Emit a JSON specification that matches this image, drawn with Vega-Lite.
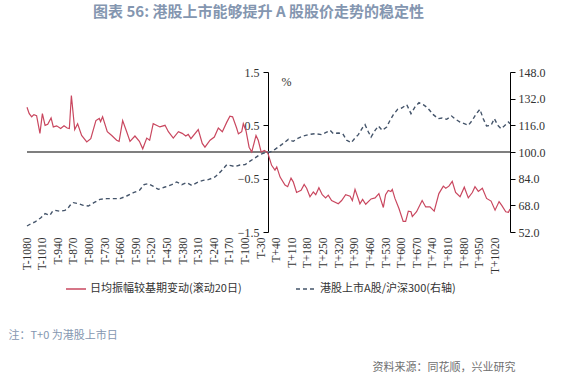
{
  "$schema": "https://vega.github.io/schema/vega-lite/v6.json",
  "width": 483,
  "height": 160,
  "autosize": {"type": "none"},
  "padding": {"left": 27, "top": 72, "right": 74, "bottom": 144},
  "background": "white",
  "title": {
    "text": "图表 56: 港股上市能够提升 A 股股价走势的稳定性",
    "font": "Noto Sans CJK SC",
    "fontSize": 15,
    "fontWeight": "bold",
    "color": "#8496b0",
    "anchor": "middle",
    "frame": "group",
    "dx": -10,
    "offset": 46
  },
  "datasets": {
    "amp": [
      {"d": -1080, "v": 0.84}, {"d": -1070, "v": 0.72}, {"d": -1059, "v": 0.66}, {"d": -1049, "v": 0.70},
      {"d": -1037, "v": 0.68}, {"d": -1022, "v": 0.35}, {"d": -1011, "v": 0.72}, {"d": -999, "v": 0.50},
      {"d": -987, "v": 0.52}, {"d": -972, "v": 0.64}, {"d": -962, "v": 0.47}, {"d": -947, "v": 0.49},
      {"d": -929, "v": 0.44}, {"d": -914, "v": 0.49}, {"d": -900, "v": 0.45}, {"d": -890, "v": 0.44},
      {"d": -881, "v": 1.06}, {"d": -866, "v": 0.42}, {"d": -853, "v": 0.53}, {"d": -835, "v": 0.31},
      {"d": -812, "v": 0.19}, {"d": -794, "v": 0.25}, {"d": -771, "v": 0.59}, {"d": -756, "v": 0.63},
      {"d": -750, "v": 0.57}, {"d": -741, "v": 0.66}, {"d": -720, "v": 0.38}, {"d": -700, "v": 0.31},
      {"d": -678, "v": 0.22}, {"d": -667, "v": 0.20}, {"d": -651, "v": 0.59}, {"d": -633, "v": 0.38},
      {"d": -618, "v": 0.20}, {"d": -596, "v": 0.30}, {"d": -576, "v": 0.20}, {"d": -561, "v": 0.06},
      {"d": -543, "v": 0.26}, {"d": -530, "v": 0.22}, {"d": -514, "v": 0.53}, {"d": -484, "v": 0.47},
      {"d": -461, "v": 0.50}, {"d": -446, "v": 0.38}, {"d": -424, "v": 0.26}, {"d": -401, "v": 0.38},
      {"d": -384, "v": 0.35}, {"d": -368, "v": 0.30}, {"d": -357, "v": 0.33}, {"d": -345, "v": 0.25},
      {"d": -312, "v": 0.42}, {"d": -294, "v": 0.16}, {"d": -282, "v": 0.09}, {"d": -259, "v": 0.22},
      {"d": -240, "v": 0.28}, {"d": -222, "v": 0.45}, {"d": -204, "v": 0.38}, {"d": -184, "v": 0.56},
      {"d": -170, "v": 0.67}, {"d": -158, "v": 0.66}, {"d": -140, "v": 0.45}, {"d": -132, "v": 0.34},
      {"d": -117, "v": 0.38}, {"d": -110, "v": 0.53}, {"d": -98, "v": 0.40}, {"d": -84, "v": 0.09},
      {"d": -72, "v": 0.0}, {"d": -53, "v": 0.31}, {"d": -43, "v": 0.22}, {"d": -30, "v": 0.0},
      {"d": -15, "v": 0.03}, {"d": 0, "v": -0.02}, {"d": 17, "v": -0.25}, {"d": 32, "v": -0.34},
      {"d": 40, "v": -0.28}, {"d": 55, "v": -0.47}, {"d": 77, "v": -0.62}, {"d": 89, "v": -0.65},
      {"d": 104, "v": -0.49}, {"d": 114, "v": -0.56}, {"d": 129, "v": -0.76}, {"d": 149, "v": -0.72},
      {"d": 163, "v": -0.61}, {"d": 174, "v": -0.68}, {"d": 189, "v": -0.84}, {"d": 204, "v": -0.75},
      {"d": 215, "v": -0.80}, {"d": 229, "v": -0.67}, {"d": 244, "v": -0.80}, {"d": 259, "v": -0.86},
      {"d": 271, "v": -0.81}, {"d": 286, "v": -0.91}, {"d": 316, "v": -0.97}, {"d": 331, "v": -0.91},
      {"d": 349, "v": -0.80}, {"d": 369, "v": -0.83}, {"d": 379, "v": -0.91}, {"d": 391, "v": -0.70},
      {"d": 406, "v": -0.88}, {"d": 413, "v": -0.97}, {"d": 425, "v": -0.89}, {"d": 439, "v": -0.98},
      {"d": 463, "v": -0.88}, {"d": 481, "v": -0.86}, {"d": 498, "v": -0.78}, {"d": 518, "v": -1.04},
      {"d": 528, "v": -0.80}, {"d": 540, "v": -0.72}, {"d": 552, "v": -0.74}, {"d": 558, "v": -0.70},
      {"d": 570, "v": -0.87}, {"d": 588, "v": -1.06}, {"d": 607, "v": -1.30}, {"d": 618, "v": -1.30},
      {"d": 630, "v": -1.11}, {"d": 642, "v": -1.12}, {"d": 648, "v": -1.21}, {"d": 667, "v": -1.12},
      {"d": 692, "v": -0.91}, {"d": 708, "v": -1.03}, {"d": 727, "v": -1.03}, {"d": 746, "v": -1.11},
      {"d": 767, "v": -0.78}, {"d": 787, "v": -0.64}, {"d": 798, "v": -0.68}, {"d": 812, "v": -0.64},
      {"d": 827, "v": -0.55}, {"d": 842, "v": -0.76}, {"d": 862, "v": -0.84}, {"d": 881, "v": -0.66},
      {"d": 899, "v": -0.86}, {"d": 917, "v": -0.76}, {"d": 929, "v": -0.65}, {"d": 944, "v": -0.74},
      {"d": 962, "v": -0.68}, {"d": 981, "v": -0.87}, {"d": 1001, "v": -0.92}, {"d": 1019, "v": -1.09},
      {"d": 1037, "v": -0.93}, {"d": 1049, "v": -1.00}, {"d": 1067, "v": -1.12}, {"d": 1079, "v": -1.13},
      {"d": 1086, "v": -1.07}
    ],
    "ratio": [
      {"d": -1080, "r": 55.6}, {"d": -1062, "r": 57.0}, {"d": -1044, "r": 58.0}, {"d": -1030, "r": 59.5},
      {"d": -1019, "r": 60.4}, {"d": -999, "r": 63.0}, {"d": -977, "r": 62.0}, {"d": -965, "r": 64.5},
      {"d": -954, "r": 65.0}, {"d": -932, "r": 64.4}, {"d": -910, "r": 65.0}, {"d": -895, "r": 66.5},
      {"d": -887, "r": 68.0}, {"d": -872, "r": 69.6}, {"d": -850, "r": 69.0}, {"d": -828, "r": 68.0},
      {"d": -805, "r": 67.6}, {"d": -780, "r": 69.6}, {"d": -753, "r": 71.6}, {"d": -723, "r": 72.0},
      {"d": -693, "r": 72.0}, {"d": -663, "r": 72.0}, {"d": -633, "r": 73.6}, {"d": -603, "r": 75.6},
      {"d": -576, "r": 77.0}, {"d": -555, "r": 80.4}, {"d": -536, "r": 81.0}, {"d": -515, "r": 79.5},
      {"d": -491, "r": 77.6}, {"d": -461, "r": 79.0}, {"d": -431, "r": 80.4}, {"d": -409, "r": 82.0},
      {"d": -386, "r": 80.4}, {"d": -364, "r": 81.6}, {"d": -341, "r": 80.0}, {"d": -312, "r": 82.0},
      {"d": -290, "r": 83.0}, {"d": -267, "r": 83.4}, {"d": -237, "r": 85.0}, {"d": -210, "r": 88.4},
      {"d": -184, "r": 92.4}, {"d": -165, "r": 91.8}, {"d": -147, "r": 91.2}, {"d": -125, "r": 92.2},
      {"d": -102, "r": 92.4}, {"d": -80, "r": 94.5}, {"d": -57, "r": 96.5}, {"d": -35, "r": 98.5},
      {"d": -13, "r": 99.5}, {"d": 1, "r": 99.5}, {"d": 18, "r": 100.5}, {"d": 32, "r": 101.6},
      {"d": 62, "r": 104.4}, {"d": 92, "r": 107.6}, {"d": 114, "r": 106.4}, {"d": 137, "r": 108.4},
      {"d": 159, "r": 109.6}, {"d": 181, "r": 110.4}, {"d": 211, "r": 111.0}, {"d": 241, "r": 110.4},
      {"d": 259, "r": 111.6}, {"d": 279, "r": 113.0}, {"d": 294, "r": 111.0}, {"d": 316, "r": 111.4},
      {"d": 336, "r": 111.0}, {"d": 354, "r": 107.0}, {"d": 374, "r": 105.6}, {"d": 391, "r": 108.4},
      {"d": 406, "r": 110.4}, {"d": 424, "r": 114.4}, {"d": 436, "r": 116.4}, {"d": 451, "r": 112.0},
      {"d": 463, "r": 109.0}, {"d": 481, "r": 113.0}, {"d": 496, "r": 115.6}, {"d": 513, "r": 113.0},
      {"d": 533, "r": 115.0}, {"d": 548, "r": 119.0}, {"d": 563, "r": 122.4}, {"d": 582, "r": 125.6},
      {"d": 600, "r": 126.4}, {"d": 623, "r": 128.4}, {"d": 642, "r": 123.0}, {"d": 660, "r": 127.0},
      {"d": 678, "r": 129.6}, {"d": 697, "r": 128.4}, {"d": 717, "r": 126.4}, {"d": 742, "r": 122.4},
      {"d": 764, "r": 120.0}, {"d": 782, "r": 120.4}, {"d": 802, "r": 119.6}, {"d": 824, "r": 121.6},
      {"d": 842, "r": 119.6}, {"d": 862, "r": 118.0}, {"d": 881, "r": 117.0}, {"d": 899, "r": 116.0},
      {"d": 917, "r": 119.0}, {"d": 932, "r": 122.4}, {"d": 951, "r": 125.6}, {"d": 966, "r": 120.0},
      {"d": 981, "r": 115.6}, {"d": 1001, "r": 116.0}, {"d": 1016, "r": 120.0}, {"d": 1031, "r": 116.0},
      {"d": 1046, "r": 114.0}, {"d": 1060, "r": 115.6}, {"d": 1079, "r": 118.0}, {"d": 1086, "r": 117.0}
    ],
    "base": [{"zero": 0}]
  },
  "layer": [
    {
      "layer": [
        {
          "data": {"name": "base"},
          "mark": {"type": "rule", "color": "#7f7f7f", "strokeWidth": 2},
          "encoding": {
            "y": {"field": "zero", "type": "quantitative", "scale": {"domain": [-1.5, 1.5], "nice": false, "zero": false}}
          }
        },
        {
          "data": {"name": "amp"},
          "mark": {"type": "line", "strokeWidth": 1.2, "interpolate": "linear"},
          "encoding": {
            "x": {
              "field": "d", "type": "quantitative",
              "scale": {"domain": [-1080, 1086], "nice": false, "zero": false},
              "axis": {
                "orient": "bottom",
                "values": [-1080, -1010, -940, -870, -800, -730, -660, -590, -520, -450, -380, -310, -240, -170, -100, -30, 40, 110, 180, 250, 320, 390, 460, 530, 600, 670, 740, 810, 880, 950, 1020],
                "labelExpr": "'T' + (datum.value > 0 ? '+' : '') + datum.value",
                "labelAngle": 270,
                "labelOverlap": false,
                "labelFlush": false,
                "labelPadding": 5,
                "labelFont": "Liberation Serif",
                "labelFontSize": 11.5,
                "labelColor": "#333333",
                "domain": false,
                "ticks": false,
                "title": "注：T+0 为港股上市日",
                "titleFont": "Noto Sans CJK SC",
                "titleFontSize": 11,
                "titleFontWeight": "normal",
                "titleColor": "#8496b0",
                "titleAngle": 0,
                "titleAlign": "left",
                "titleAnchor": "start",
                "titleBaseline": "middle",
                "titleX": -19,
                "titleY": 103
              }
            },
            "y": {
              "field": "v", "type": "quantitative",
              "scale": {"domain": [-1.5, 1.5], "nice": false, "zero": false},
              "axis": {
                "orient": "left",
                "offset": -241,
                "values": [-1.5, -1, -0.5, 0, 0.5, 1, 1.5],
                "format": ".1f",
                "tickSize": 5,
                "labelPadding": 4,
                "labelFont": "Liberation Serif",
                "labelFontSize": 12,
                "labelColor": "#333333",
                "title": "%",
                "titleFont": "Liberation Serif",
                "titleFontSize": 12,
                "titleFontWeight": "normal",
                "titleColor": "#333333",
                "titleAngle": 0,
                "titleAlign": "center",
                "titleBaseline": "middle",
                "titleX": 18,
                "titleY": 9
              }
            },
            "color": {
              "datum": "日均振幅较基期变动(滚动20日)",
              "type": "nominal",
              "scale": {"range": ["#c9475f"]},
              "legend": {
                "orient": "none",
                "legendX": 38,
                "legendY": 206,
                "title": null,
                "padding": 0,
                "symbolType": "stroke",
                "symbolSize": 400,
                "symbolStrokeWidth": 1.5,
                "labelFont": "Noto Sans CJK SC",
                "labelFontSize": 11,
                "labelColor": "#333333",
                "labelOffset": 3
              }
            }
          }
        }
      ]
    },
    {
      "data": {"name": "ratio"},
      "mark": {"type": "line", "color": "#44546a", "strokeWidth": 1.4},
      "encoding": {
        "x": {
          "field": "d", "type": "quantitative",
          "scale": {"domain": [-1080, 1086], "nice": false, "zero": false},
          "axis": {
            "orient": "bottom",
            "values": [-1080, -1010, -940, -870, -800, -730, -660, -590, -520, -450, -380, -310, -240, -170, -100, -30, 40, 110, 180, 250, 320, 390, 460, 530, 600, 670, 740, 810, 880, 950, 1020],
            "labelExpr": "'T' + (datum.value > 0 ? '+' : '') + datum.value",
            "labelAngle": 270,
            "labelOverlap": false,
            "labelFlush": false,
            "labelPadding": 5,
            "labelFont": "Liberation Serif",
            "labelFontSize": 11.5,
            "labelColor": "#333333",
            "domain": false,
            "ticks": false,
            "title": "注：T+0 为港股上市日",
            "titleFont": "Noto Sans CJK SC",
            "titleFontSize": 11,
            "titleFontWeight": "normal",
            "titleColor": "#8496b0",
            "titleAngle": 0,
            "titleAlign": "left",
            "titleAnchor": "start",
            "titleBaseline": "middle",
            "titleX": -19,
            "titleY": 103
          }
        },
        "y": {
          "field": "r", "type": "quantitative",
          "scale": {"domain": [52, 148], "nice": false, "zero": false},
          "axis": {
            "orient": "right",
            "values": [52, 68, 84, 100, 116, 132, 148],
            "format": ".1f",
            "tickSize": 5,
            "labelPadding": 3,
            "labelFont": "Liberation Serif",
            "labelFontSize": 12,
            "labelColor": "#333333",
            "title": "资料来源：同花顺，兴业研究",
            "titleFont": "Noto Sans CJK SC",
            "titleFontSize": 11,
            "titleFontWeight": "normal",
            "titleColor": "#6f6f6f",
            "titleAngle": 0,
            "titleAlign": "right",
            "titleBaseline": "middle",
            "titleX": 5,
            "titleY": 295
          }
        },
        "strokeDash": {
          "datum": "港股上市A股/沪深300(右轴)",
          "type": "nominal",
          "scale": {"range": [[4, 3]]},
          "legend": {
            "orient": "none",
            "legendX": 268,
            "legendY": 206,
            "title": null,
            "padding": 0,
            "symbolType": "stroke",
            "symbolSize": 400,
            "symbolStrokeWidth": 1.5,
            "symbolStrokeColor": "#44546a",
            "labelFont": "Noto Sans CJK SC",
            "labelFontSize": 11,
            "labelColor": "#333333",
            "labelOffset": 3
          }
        }
      }
    }
  ],
  "resolve": {"scale": {"y": "independent"}},
  "config": {
    "view": {"stroke": null},
    "axis": {
      "grid": false,
      "labelFont": "Liberation Serif",
      "labelColor": "#333333",
      "domainColor": "#000000",
      "tickColor": "#000000",
      "domainWidth": 1,
      "tickWidth": 1
    }
  }
}
